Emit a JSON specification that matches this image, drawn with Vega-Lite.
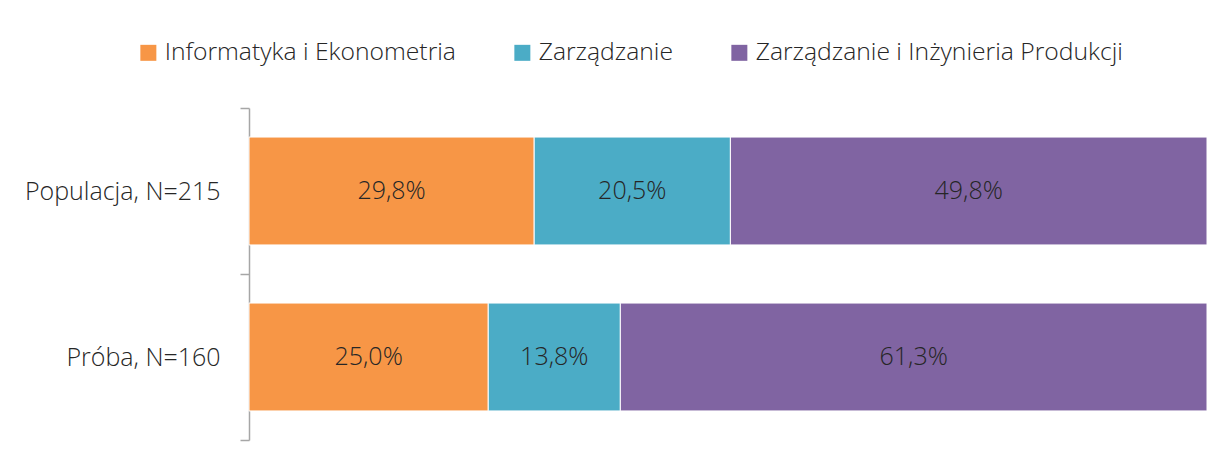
{
  "$schema": "https://vega.github.io/schema/vega-lite/v6.json",
  "width": 958,
  "height": 332,
  "autosize": {"type": "none"},
  "padding": {"left": 249, "top": 108, "right": 19, "bottom": 27},
  "background": "white",
  "config": {
    "view": {"stroke": null},
    "font": "Open Sans",
    "locale": {"number": {"decimal": ",", "thousands": " ", "grouping": [3], "currency": ["", " zł"]}}
  },
  "data": {
    "values": [
      {"grupa": "Populacja, N=215", "kierunek": "Informatyka i Ekonometria", "udzial": 0.298},
      {"grupa": "Populacja, N=215", "kierunek": "Zarządzanie", "udzial": 0.205},
      {"grupa": "Populacja, N=215", "kierunek": "Zarządzanie i Inżynieria Produkcji", "udzial": 0.498},
      {"grupa": "Próba, N=160", "kierunek": "Informatyka i Ekonometria", "udzial": 0.250},
      {"grupa": "Próba, N=160", "kierunek": "Zarządzanie", "udzial": 0.138},
      {"grupa": "Próba, N=160", "kierunek": "Zarządzanie i Inżynieria Produkcji", "udzial": 0.613}
    ]
  },
  "transform": [
    {"calculate": "indexof(['Informatyka i Ekonometria','Zarządzanie','Zarządzanie i Inżynieria Produkcji'], datum.kierunek)", "as": "kolejnosc"},
    {"stack": "udzial", "groupby": ["grupa"], "sort": [{"field": "kolejnosc", "order": "ascending"}], "offset": "normalize", "as": ["x0", "x1"]},
    {"calculate": "(datum.x0 + datum.x1) / 2", "as": "xmid"}
  ],
  "encoding": {
    "y": {
      "field": "grupa", "type": "nominal",
      "sort": ["Populacja, N=215", "Próba, N=160"],
      "scale": {"paddingInner": 0, "paddingOuter": 0},
      "axis": {
        "title": null,
        "tickBand": "extent",
        "tickSize": 9,
        "tickColor": "#A6A6A6",
        "domainColor": "#A6A6A6",
        "tickWidth": 1.5,
        "domainWidth": 1.5,
        "labelFontSize": 25,
        "labelFont": "Open Sans",
        "labelFontWeight": 300,
        "labelColor": "#262626",
        "labelPadding": 20,
        "labelLimit": 400
      }
    }
  },
  "layer": [
    {
      "mark": {"type": "bar", "stroke": "white", "strokeWidth": 1, "height": {"band": 0.65}},
      "encoding": {
        "x": {"field": "x0", "type": "quantitative", "scale": {"domain": [0, 1], "nice": false}, "axis": null},
        "x2": {"field": "x1"},
        "color": {
          "field": "kierunek", "type": "nominal",
          "scale": {
            "domain": ["Informatyka i Ekonometria", "Zarządzanie", "Zarządzanie i Inżynieria Produkcji"],
            "range": ["#F79646", "#4BACC6", "#8064A2"]
          },
          "legend": {
            "title": null,
            "orient": "none",
            "direction": "horizontal",
            "legendX": -113,
            "legendY": -68,
            "symbolType": "square",
            "symbolSize": 256,
            "symbolStrokeWidth": 0,
            "symbolOpacity": 1,
            "labelFontSize": 24.7,
            "labelFont": "Open Sans",
            "labelFontWeight": 300,
            "labelColor": "#262626",
            "labelOffset": 4,
            "columnPadding": 54,
            "labelLimit": 600
          }
        }
      }
    },
    {
      "mark": {"type": "text", "fontSize": 25, "fontWeight": 300, "color": "#262626", "font": "Open Sans", "align": "center", "baseline": "middle"},
      "encoding": {
        "x": {"field": "xmid", "type": "quantitative"},
        "text": {"field": "udzial", "type": "quantitative", "format": ".1%"}
      }
    }
  ]
}
